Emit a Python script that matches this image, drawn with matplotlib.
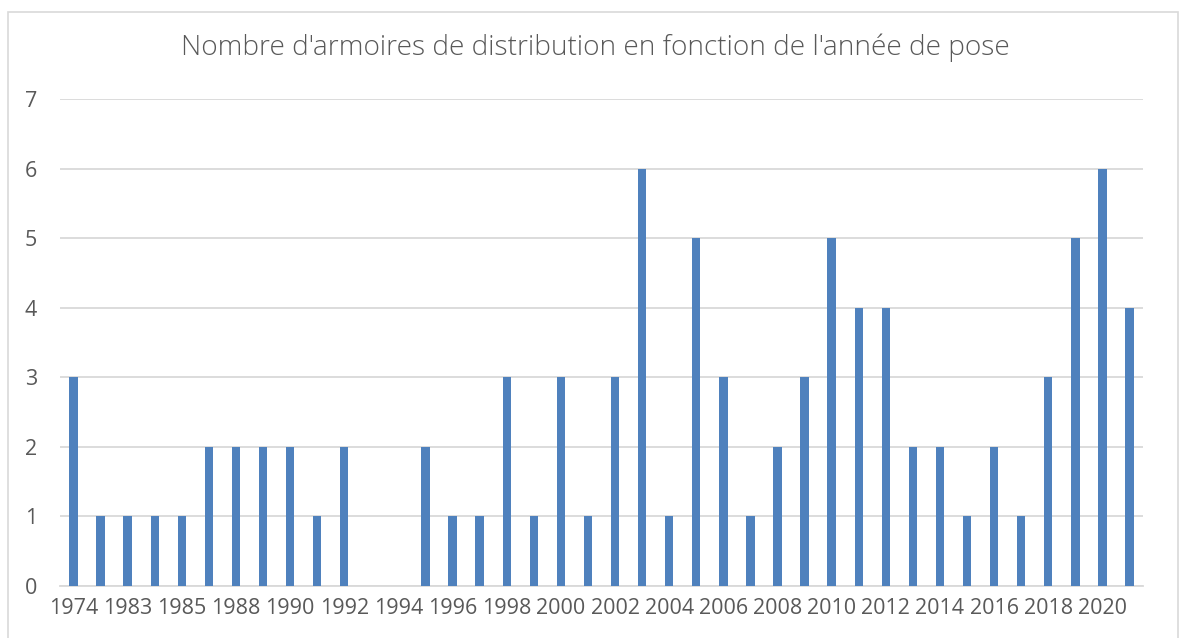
import numpy as np
import matplotlib.pyplot as plt
from matplotlib.patches import Rectangle

years = ["1974", "1980", "1983", "1984", "1985", "1987", "1988", "1989", "1990", "1991",
         "1992", "1993", "1994", "1995", "1996", "1997", "1998", "1999", "2000", "2001",
         "2002", "2003", "2004", "2005", "2006", "2007", "2008", "2009", "2010", "2011",
         "2012", "2013", "2014", "2015", "2016", "2017", "2018", "2019", "2020", "2021"]
counts = [3, 1, 1, 1, 1, 2, 2, 2, 2, 1,
          2, 0, 0, 2, 1, 1, 3, 1, 3, 1,
          3, 6, 1, 5, 3, 1, 2, 3, 5, 4,
          4, 2, 2, 1, 2, 1, 3, 5, 6, 4]
title = "Nombre d'armoires de distribution en fonction de l'année de pose"

W, H = 1185, 638
plt.rcParams["font.family"] = ["Open Sans", "DejaVu Sans"]
text_col = "#595959"
grid_col = "#D9D9D9"

fig = plt.figure(figsize=(W / 100, H / 100), dpi=100)
# light frame round the whole chart, as in the Excel export
fig.patches.append(Rectangle((8 / W, -0.01), 1170 / W, 1 - 12 / H + 0.01,
                             transform=fig.transFigure, fill=False,
                             edgecolor=grid_col, linewidth=1.2))

ax = fig.add_axes([60 / W, (H - 586) / H, (1143 - 60) / W, (586 - 99) / H])
x = np.arange(len(years))
ax.bar(x, counts, width=0.31, color="#4F81BD", linewidth=0, zorder=3)

ax.set_xlim(-0.5, len(years) - 0.5)
ax.set_ylim(0, 7)
ax.set_yticks(range(8))
ax.set_xticks(x[::2])
ax.set_xticklabels(years[::2])
ax.tick_params(axis="both", length=0, labelsize=15.5, colors=text_col)
ax.tick_params(axis="x", pad=9)
ax.tick_params(axis="y", pad=16.5)
ax.grid(axis="y", color=grid_col, linewidth=1.3, zorder=0)
for s in ["top", "right", "left"]:
    ax.spines[s].set_visible(False)
ax.spines["bottom"].set_color(grid_col)
ax.spines["bottom"].set_linewidth(1.3)

fig.text(595 / W, 1 - 48 / H, title, ha="center", va="center",
         fontsize=20.2, fontweight="light", color=text_col)

fig.savefig("out.png", dpi=100)
